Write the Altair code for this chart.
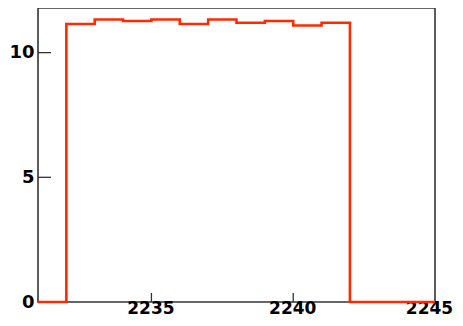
import altair as alt
import pandas as pd

# Histogram bin lower edges and contents
bin_edges = [2232, 2233, 2234, 2235, 2236, 2237, 2238, 2239, 2240, 2241]
bin_counts = [11.15, 11.33, 11.27, 11.33, 11.15, 11.33, 11.20, 11.27, 11.09, 11.20]
x_range = [2231, 2245]
y_range = [0, 11.79]
x_tick_values = [2235, 2240]
x_label_values = [2235, 2240, 2245]
y_tick_values = [0, 5, 10]

# step points: start at range min with 0, each bin edge, close at 2242 -> 0, continue to range max
xs = [x_range[0]] + bin_edges + [bin_edges[-1] + 1, x_range[1]]
ys = [0] + bin_counts + [0, 0]
hist = pd.DataFrame({"x": xs, "y": ys})

xscale = alt.Scale(domain=x_range, nice=False, zero=False)
yscale = alt.Scale(domain=y_range, nice=False, zero=False)

FONT = "DejaVu Sans"

line = alt.Chart(hist).mark_line(
    interpolate="step-after", color="#ff2a00", strokeWidth=2.6
).encode(
    x=alt.X("x:Q", scale=xscale, axis=alt.Axis(
        values=x_label_values, format="d", title=None, ticks=False, domain=False, grid=False,
        labelFont=FONT, labelFontWeight="bold", labelFontSize=17, labelColor="#000000",
        labelPadding=-2, labelFlush=False, labelOverlap=False,
        labelOffset={"condition": {"test": "datum.value == 2245", "value": -6}, "value": -1})),
    y=alt.Y("y:Q", scale=yscale, axis=alt.Axis(
        values=y_tick_values, title=None, ticks=False, domain=False, grid=False,
        labelFont=FONT, labelFontWeight="bold", labelFontSize=18, labelColor="#000000",
        labelPadding=4, labelFlush=False, labelOverlap=False)),
)

ytick_df = pd.DataFrame({"v": y_tick_values})
yticks = alt.Chart(ytick_df).mark_rule(color="#333333", strokeWidth=1.3).encode(
    y=alt.Y("v:Q", scale=yscale),
    x=alt.value(0), x2=alt.value(13),
)

xtick_df = pd.DataFrame({"v": x_tick_values})
xticks = alt.Chart(xtick_df).mark_rule(color="#333333", strokeWidth=1.3).encode(
    x=alt.X("v:Q", scale=xscale),
    y=alt.value(285), y2=alt.value(294),
)

chart = alt.layer(xticks, yticks, line).properties(
    width=397, height=294,
    autosize=alt.AutoSizeParams(type="none"),
    padding={"left": 30, "top": 0, "right": 20, "bottom": 16},
    background="white",
).configure_view(stroke="#333333", strokeWidth=1.6)

chart.save("out.html", embed_options={"renderer": "svg", "actions": False})
